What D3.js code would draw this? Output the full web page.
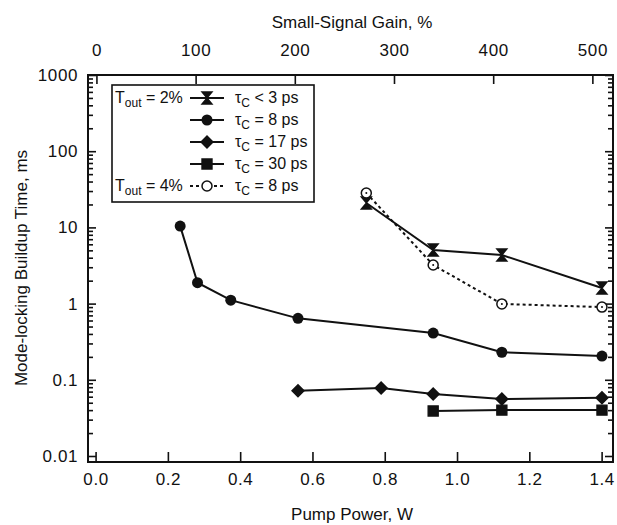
<!DOCTYPE html>
<html>
<head>
<meta charset="utf-8">
<script src="https://cdn.jsdelivr.net/npm/d3@7"></script>
<style>
  body { margin: 0; background: #fff; }
  svg text { font-family: "Liberation Sans", Arial, sans-serif; fill: #111; }
</style>
</head>
<body>
<svg width="617" height="525"></svg>
<script>
// pump power (W) and buildup time (ms) per series
const powBow = [0.749, 0.934, 1.124, 1.401],  timeBow = [20.9, 5.05, 4.34, 1.6];
const powCirc = [0.234, 0.282, 0.374, 0.56, 0.934, 1.124, 1.401],
      timeCirc = [10.4, 1.88, 1.11, 0.64, 0.41, 0.23, 0.205];
const powDia = [0.56, 0.79, 0.934, 1.124, 1.401], timeDia = [0.072, 0.078, 0.065, 0.056, 0.058];
const powSq = [0.934, 1.124, 1.401], timeSq = [0.039, 0.040, 0.040];
const powOpen = [0.749, 0.934, 1.124, 1.401], timeOpen = [28.3, 3.21, 0.99, 0.90];

const xTicks = [0, 0.2, 0.4, 0.6, 0.8, 1.0, 1.2, 1.4];
const gainTicks = [0, 100, 200, 300, 400, 500];
const yTicks = [0.01, 0.1, 1, 10, 100, 1000];
const yLabels = ["0.01", "0.1", "1", "10", "100", "1000"];

const legendTout = ["2%", "", "", "", "4%"];
const legendTau = ["< 3 ps", "= 8 ps", "= 17 ps", "= 30 ps", "= 8 ps"];

const svg = d3.select("svg");
const L = 88, R = 613, T = 75, B = 462;

const x = d3.scaleLinear().domain([-0.021, 1.4315]).range([L, R]);
const xg = d3.scaleLinear().domain([-8.5, 520.8]).range([L, R]);
const y = d3.scaleLog().domain([10 ** (-2 - 6 / 76.2), 1000]).range([B, T]);

let minors = [];
for (let e = -2; e < 3; e++) for (let k = 2; k <= 9; k++) minors.push(k * 10 ** e);

function styleAxis(g) {
  g.select(".domain").remove();
  g.selectAll("line").attr("stroke", "#111").attr("stroke-width", 1.6);
  g.selectAll("text").attr("font-size", 17).attr("letter-spacing", 0.6);
}

svg.append("g").attr("transform", `translate(0,${B})`)
  .call(d3.axisBottom(x).tickValues(xTicks).tickFormat(d3.format(".1f")).tickSize(-10).tickPadding(11))
  .call(styleAxis);
svg.append("g").attr("transform", `translate(0,${T})`)
  .call(d3.axisTop(xg).tickValues(gainTicks).tickFormat(d3.format("d")).tickSize(-9).tickPadding(19))
  .call(styleAxis);
svg.append("g").attr("transform", `translate(${L},0)`)
  .call(d3.axisLeft(y).tickValues(yTicks).tickFormat((d, i) => yLabels[i]).tickSize(-8).tickPadding(10))
  .call(styleAxis);
svg.append("g").attr("transform", `translate(${L},0)`)
  .call(d3.axisLeft(y).tickValues(minors).tickFormat("").tickSize(-5))
  .call(styleAxis);
svg.append("g").attr("transform", `translate(${R},0)`)
  .call(d3.axisRight(y).tickValues(yTicks).tickFormat("").tickSize(-8))
  .call(styleAxis);
svg.append("g").attr("transform", `translate(${R},0)`)
  .call(d3.axisRight(y).tickValues(minors).tickFormat("").tickSize(-5))
  .call(styleAxis);

svg.append("rect").attr("x", L).attr("y", T).attr("width", R - L).attr("height", B - T)
  .attr("fill", "none").attr("stroke", "#111").attr("stroke-width", 2);

// titles
svg.append("text").attr("x", 352).attr("y", 28).attr("text-anchor", "middle")
  .attr("font-size", 17).text("Small-Signal Gain, %");
svg.append("text").attr("x", 352).attr("y", 520).attr("text-anchor", "middle")
  .attr("font-size", 17).text("Pump Power, W");
svg.append("text").attr("transform", "translate(27,268) rotate(-90)").attr("text-anchor", "middle")
  .attr("font-size", 17).text("Mode-locking Buildup Time, ms");

// markers
const shapes = {
  bow: "M-5,-6H5L0,0ZM-5,6H5L0,0Z M-5,-6H5M-5,6H5",
  circ: null, dia: "M0,-6L6,0L0,6L-6,0Z", sq: "M-5,-5H5V5H-5Z", open: null
};
function marker(g, kind) {
  if (kind === "circ") g.append("circle").attr("r", 5.5).attr("fill", "#111");
  else if (kind === "open") {
    g.append("circle").attr("r", 5).attr("fill", "#fff").attr("stroke", "#111").attr("stroke-width", 1.5);
  } else g.append("path").attr("d", shapes[kind]).attr("fill", "#111").attr("stroke", "#111").attr("stroke-width", 1.4);
}

const series = [
  {kind: "bow", px: powBow, py: timeBow},
  {kind: "circ", px: powCirc, py: timeCirc},
  {kind: "dia", px: powDia, py: timeDia},
  {kind: "sq", px: powSq, py: timeSq},
  {kind: "open", px: powOpen, py: timeOpen, dash: "3,3"}
];
const line = d3.line().x(d => x(d[0])).y(d => y(d[1]));
series.forEach(s => {
  const pts = s.px.map((p, i) => [p, s.py[i]]);
  svg.append("path").attr("d", line(pts)).attr("fill", "none").attr("stroke", "#111")
    .attr("stroke-width", 2).attr("stroke-dasharray", s.dash || null);
  pts.forEach(p => {
    const g = svg.append("g").attr("transform", `translate(${x(p[0])},${y(p[1])})`);
    marker(g, s.kind);
    if (s.kind === "open") g.append("circle").attr("r", 1).attr("fill", "#111");
  });
});

// legend
const lg = svg.append("g");
lg.append("rect").attr("x", 112).attr("y", 85).attr("width", 202).attr("height", 117)
  .attr("fill", "#fff").attr("stroke", "#111").attr("stroke-width", 1.6);
series.forEach((s, i) => {
  const cy = 98 + i * 22;
  lg.append("line").attr("x1", 190).attr("x2", 224).attr("y1", cy).attr("y2", cy)
    .attr("stroke", "#111").attr("stroke-width", 2).attr("stroke-dasharray", s.dash || null);
  const g = lg.append("g").attr("transform", `translate(207,${cy})`);
  marker(g, s.kind);
  if (legendTout[i]) {
    const t = lg.append("text").attr("x", 115).attr("y", cy + 5).attr("font-size", 16);
    t.append("tspan").text("T");
    t.append("tspan").attr("font-size", 12).attr("dy", 4).text("out");
    t.append("tspan").attr("dy", -4).text(" = " + legendTout[i]);
  }
  const t2 = lg.append("text").attr("x", 235).attr("y", cy + 5).attr("font-size", 16);
  t2.append("tspan").text("τ");
  t2.append("tspan").attr("font-size", 12).attr("dy", 4).text("C");
  t2.append("tspan").attr("dy", -4).text(" " + legendTau[i]);
});
</script>
</body>
</html>
